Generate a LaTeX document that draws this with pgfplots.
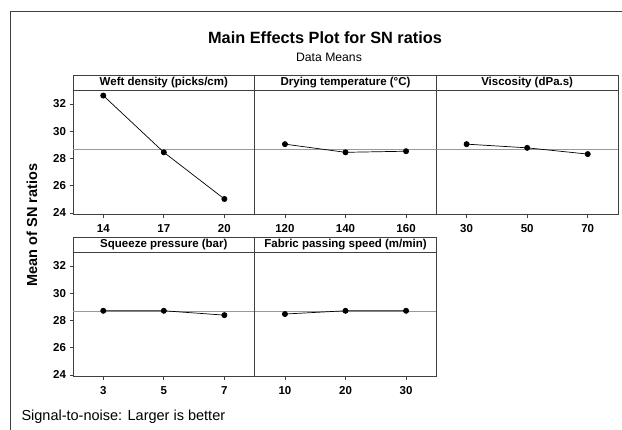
\documentclass[border=0pt]{standalone}
\usepackage{fontspec}
\setmainfont{Liberation Sans}
\usepackage{pgfplots}
\pgfplotsset{compat=1.18}

\definecolor{framec}{gray}{0.25}
\definecolor{refline}{gray}{0.6}

\newcommand{\lab}{\fontsize{11.5}{13}\selectfont\bfseries}

\pgfplotsset{
  mep/.style={
    scale only axis, width=181.67pt, height=124.5pt,
    anchor=north west,
    xmin=-0.5, xmax=2.5, ymin=23.88, ymax=33.03,
    xtick={0,1,2},
    axis line style={framec, line width=0.9pt},
    tick align=outside, xtick pos=bottom, ytick pos=left,
    major tick length=3.5pt,
    tick style={framec, line width=0.7pt},
    ytick={24,26,...,32},
    tick label style={font=\lab},
    xticklabel style={yshift=-3pt},
    /pgf/number format/assume math mode=true,
  },
  noy/.style={ytick=\empty},
  meanline/.style={refline, line width=0.8pt},
  effect/.style={black, line width=0.7pt, mark=*, mark size=2.6pt},
}

% draw the grey header strip on top of a panel
\newcommand{\header}[2]{%
  \draw[framec, line width=0.9pt] (#1.north west) rectangle ([yshift=15pt]#1.north east);
  \node[font=\lab] at ([yshift=7.5pt]#1.north) {#2};
}

\begin{document}
\begin{tikzpicture}
\useasboundingbox (0,0) rectangle (622pt,-430pt);
\draw[framec, line width=1pt] (10.5pt,-430pt) -- (10.5pt,-12pt) -- (622pt,-12pt);

\node[font=\fontsize{16.3}{19}\selectfont\bfseries] at (325pt,-38pt) {Main Effects Plot for SN ratios};
\node[font=\fontsize{12.2}{14}\selectfont] at (329pt,-57pt) {Data Means};
\node[font=\fontsize{14.5}{16}\selectfont\bfseries, rotate=90] at (32pt,-225pt) {Mean of SN ratios};
\node[font=\fontsize{14.5}{17}\selectfont, anchor=base west] at (18pt,-421pt) {Signal-to-noise: Larger is better};

% top row
\begin{axis}[mep, name=p1, at={(73pt,-90pt)}, xticklabels={14,17,20}]
  \addplot[meanline] coordinates {(-0.5,28.64) (2.5,28.64)};
  \addplot[effect] coordinates {(0,32.62) (1,28.45) (2,25.02)};
\end{axis}
\header{p1}{Weft density (picks/cm)}

\begin{axis}[mep, noy, name=p2, at={(254.67pt,-90pt)}, xticklabels={120,140,160}]
  \addplot[meanline] coordinates {(-0.5,28.64) (2.5,28.64)};
  \addplot[effect] coordinates {(0,29.05) (1,28.45) (2,28.53)};
\end{axis}
\header{p2}{Drying temperature (°C)}

\begin{axis}[mep, noy, name=p3, at={(436.33pt,-90pt)}, xticklabels={30,50,70}]
  \addplot[meanline] coordinates {(-0.5,28.64) (2.5,28.64)};
  \addplot[effect] coordinates {(0,29.05) (1,28.78) (2,28.32)};
\end{axis}
\header{p3}{Viscosity (dPa.s)}

% bottom row
\begin{axis}[mep, name=p4, at={(73pt,-252pt)}, xticklabels={3,5,7}]
  \addplot[meanline] coordinates {(-0.5,28.64) (2.5,28.64)};
  \addplot[effect] coordinates {(0,28.71) (1,28.71) (2,28.39)};
\end{axis}
\header{p4}{Squeeze pressure (bar)}

\begin{axis}[mep, noy, name=p5, at={(254.67pt,-252pt)}, xticklabels={10,20,30}]
  \addplot[meanline] coordinates {(-0.5,28.64) (2.5,28.64)};
  \addplot[effect] coordinates {(0,28.47) (1,28.71) (2,28.71)};
\end{axis}
\header{p5}{Fabric passing speed (m/min)}
\end{tikzpicture}
\end{document}
